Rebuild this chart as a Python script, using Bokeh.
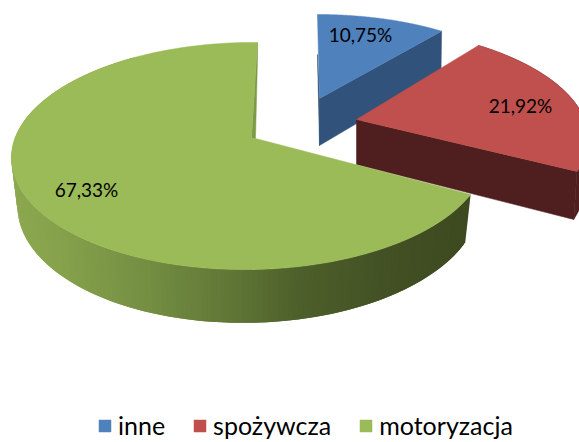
import numpy as np
from bokeh.plotting import figure
from bokeh.models import Legend, LegendItem, ColumnDataSource, Range1d
from bokeh.core.properties import value
from bokeh.embed import file_html
from bokeh.resources import INLINE

categories = ["inne", "spożywcza", "motoryzacja"]
shares = [10.75, 21.92, 67.33]
labels = ["10,75%", "21,92%", "67,33%"]
top_colors = ["#4f81bd", "#c0504d", "#9bbb59"]
wall_colors = ["#31527a", "#4f1f1f", "#5a6e30"]

# projection parameters of each exploded slice
K = 0.1366
GEOM = [
    dict(ax=319, ay=98, B=219, A=95.5, S=-2.3, m=0.0, d=47, shr=0.995),
    dict(ax=356, ay=119, B=228, A=105, S=-9.8, m=0.0, d=45, shr=0.985),
    dict(ax=254, ay=140, B=235, A=111.4, S=3.4, m=0.022, d=46, shr=0.975),
]
LABEL_XY = [(360, 34), (520, 105), (86, 189)]


def proj(g, t, r=1.0):
    u = np.sin(t) * r
    v = np.cos(t) * r
    s = 1 + K * v + g["m"] * u
    return g["ax"] + (g["B"] * u + g["S"] * v) / s, g["ay"] - g["A"] * v / s


def proj_low(g, t, r=1.0):
    x, y = proj(g, t, r)
    u = np.sin(t) * r
    v = np.cos(t) * r
    s = 1 + K * v + g["m"] * u
    return g["ax"] + (x - g["ax"]) * g["shr"], y + g["d"] / s


p = figure(width=579, height=442, output_backend="svg", toolbar_location=None,
           x_range=Range1d(0, 579), y_range=Range1d(442, 0),
           min_border=0, outline_line_color=None, background_fill_color="white")
p.axis.visible = False
p.grid.visible = False

fr = np.cumsum([0] + shares) / sum(shares) * 2 * np.pi
tops = []
for i in range(3):
    g = GEOM[i]
    a0, a1 = fr[i], fr[i + 1]
    ts = np.linspace(a0, a1, 160)
    xa, ya = proj(g, a0, 0.0)
    # thin slivers of the hidden cut faces
    if i == 2:
        xr, yr = proj(g, a1)
        p.patch([xr, xr, xa + 1, xa - 3], [yr, yr + 17, ya - 2, ya - 2],
                fill_color="#7d9a47", line_color="#7d9a47", line_width=0.5)
    elif i == 0:
        xr, yr = proj(g, a0)
        xlo, ylo = proj_low(g, a0, 0.0)
        p.patch([xr, xa, xlo], [yr + 40, ya, ylo], fill_color="#284566", line_color="#284566", line_width=0.5)
    # trailing cut face
    if i < 2:
        xr2, yr2 = proj(g, a1)
        xla, yla = proj_low(g, a1, 0.0)
        xlr, ylr = proj_low(g, a1)
        p.patch([xa, xr2, xlr, xla], [ya, yr2, ylr, yla], fill_color=wall_colors[i],
                line_color=wall_colors[i], line_width=0.5)
    # rim wall
    if i == 1:
        xt, yt = proj(g, ts)
        xl, yl = proj_low(g, ts)
        p.patch(list(xt) + list(xl[::-1]), list(yt) + list(yl[::-1]), fill_color=wall_colors[i],
                line_color=wall_colors[i], line_width=0.5)
    if i == 2:
        ws = np.linspace(a0, a1, 220)
        xt, yt = proj(g, ws)
        xl, yl = proj_low(g, ws)
        stops_x = [12, 60, 150, 250, 300, 400, 470]
        stops = np.array([[0x8c, 0xa8, 0x50], [0x86, 0xa2, 0x4c], [0x74, 0x8e, 0x42],
                          [0x5c, 0x72, 0x34], [0x4e, 0x60, 0x2b], [0x42, 0x50, 0x24], [0x3e, 0x4a, 0x20]])
        xs, ys, cs = [], [], []
        for j in range(len(ws) - 1):
            if ws[j] > np.pi * 1.8:
                continue
            jn = min(j + 2, len(ws) - 1)
            xs.append([xt[j], xt[jn], xl[jn], xl[j]])
            ys.append([yt[j], yt[jn], yl[jn], yl[j]])
            c = [int(np.interp(xt[j], stops_x, stops[:, q])) for q in range(3)]
            cs.append("#%02x%02x%02x" % tuple(c))
        p.patches(xs=xs, ys=ys, fill_color=cs, line_color=None)
    # top face
    xt, yt = proj(g, ts)
    if i == 2:
        xs_top = [xa + 1] + list(xt) + [xa - 3]
        ys_top = [ya - 2] + list(yt) + [ya - 2]
    else:
        xs_top = [xa] + list(xt)
        ys_top = [ya] + list(yt)
    src = ColumnDataSource(dict(xs=[xs_top], ys=[ys_top]))
    tops.append(p.patches("xs", "ys", source=src, fill_color=top_colors[i], line_color=top_colors[i], line_width=0.5))

p.text(x=[c[0] for c in LABEL_XY], y=[c[1] for c in LABEL_XY], text=labels,
       text_font=value("Lato"), text_font_size="19px", text_color="#000000",
       text_align="center", text_baseline="middle")

legend = Legend(items=[LegendItem(label=categories[i], renderers=[tops[i]]) for i in range(3)],
                orientation="horizontal", location=(97, 2), background_fill_alpha=0,
                border_line_color=None, label_text_font="Lato", label_text_font_size="25px",
                label_text_color="#000000", glyph_width=15, glyph_height=15, label_standoff=6,
                spacing=27, margin=0, padding=0, label_height=20)
p.add_layout(legend, "center")

open("out.html", "w").write(file_html(p, INLINE))
